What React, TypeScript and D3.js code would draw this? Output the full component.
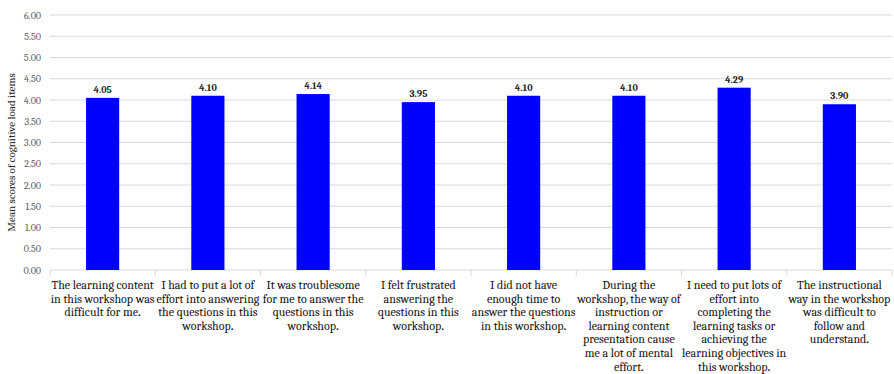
import React from "react";
import * as d3 from "d3";

const categories: string[][] = [
  ["The learning content", "in this workshop was", "difficult for me."],
  ["I had to put a lot of", "effort into answering", "the questions in this", "workshop."],
  ["It was troublesome", "for me to answer the", "questions in this", "workshop."],
  ["I felt frustrated", "answering the", "questions in this", "workshop."],
  ["I did not have", "enough time to", "answer the questions", "in this workshop."],
  ["During the", "workshop, the way of", "instruction or", "learning content", "presentation cause", "me a lot of mental", "effort."],
  ["I need to put lots of", "effort into", "completing the", "learning tasks or", "achieving the", "learning objectives in", "this workshop."],
  ["The instructional", "way in the workshop", "was difficult to", "follow and", "understand."],
];
const values: number[] = [4.05, 4.1, 4.14, 3.95, 4.1, 4.1, 4.29, 3.9];
const yTicks: number[] = [0, 0.5, 1, 1.5, 2, 2.5, 3, 3.5, 4, 4.5, 5, 5.5, 6];
const yTitle = "Mean scores of cognitive load items";

const W = 894;
const H = 374;
const FONT = "Cambria, 'Liberation Serif', 'DejaVu Serif', serif";

export default function App() {
  const left = 50;
  const right = 892;
  const top = 15;
  const bottom = 270;

  const x = d3.scaleBand<number>().domain(d3.range(values.length)).range([left, right]).paddingInner(0).paddingOuter(0);
  const y = d3.scaleLinear().domain([0, 6]).range([bottom, top]);
  const bw = x.bandwidth() * 0.315;

  return (
    <svg width={W} height={H} style={{ position: "absolute", left: 0, top: 0, background: "#fff" }} fontFamily={FONT}>
      {yTicks.map((t) => (
        <g key={t}>
          {t > 0 && <line x1={left} x2={right} y1={y(t)} y2={y(t)} stroke="#d9d9d9" strokeWidth={1} />}
          <text x={41} y={y(t)} dy="0.35em" textAnchor="end" fontSize={10} fill="#595959">
            {t.toFixed(2)}
          </text>
        </g>
      ))}
      <line x1={left} x2={right} y1={bottom} y2={bottom} stroke="#d9d9d9" strokeWidth={1} />
      {d3.range(values.length + 1).map((i) => {
        const xx = i < values.length ? x(i)! : right;
        return <line key={i} x1={xx} x2={xx} y1={bottom} y2={bottom + 6} stroke="#d9d9d9" strokeWidth={1} />;
      })}
      {values.map((v, i) => {
        const cx = x(i)! + x.bandwidth() / 2;
        return (
          <g key={i}>
            <rect x={cx - bw / 2} y={y(v)} width={bw} height={bottom - y(v)} fill="#0000ff" />
            <text x={cx} y={y(v) - 5} textAnchor="middle" fontSize={10} fontWeight="bold" fill="#262626">
              {v.toFixed(2)}
            </text>
            <text x={cx} textAnchor="middle" fontSize={12} fill="#111">
              {categories[i].map((line, j) => {
                const last = j === categories[i].length - 1 && line.endsWith(".");
                return (
                  <tspan key={j} x={cx} y={289 + j * 13.6}>
                    {last ? line.slice(0, -1) : line}
                    {last && <tspan fontWeight="bold">.</tspan>}
                  </tspan>
                );
              })}
            </text>
          </g>
        );
      })}
      <text
        transform={`translate(15,${(top + bottom) / 2 + 10}) rotate(-90)`}
        textAnchor="middle"
        fontSize={11}
        fill="#222"
      >
        {yTitle}
      </text>
    </svg>
  );
}
